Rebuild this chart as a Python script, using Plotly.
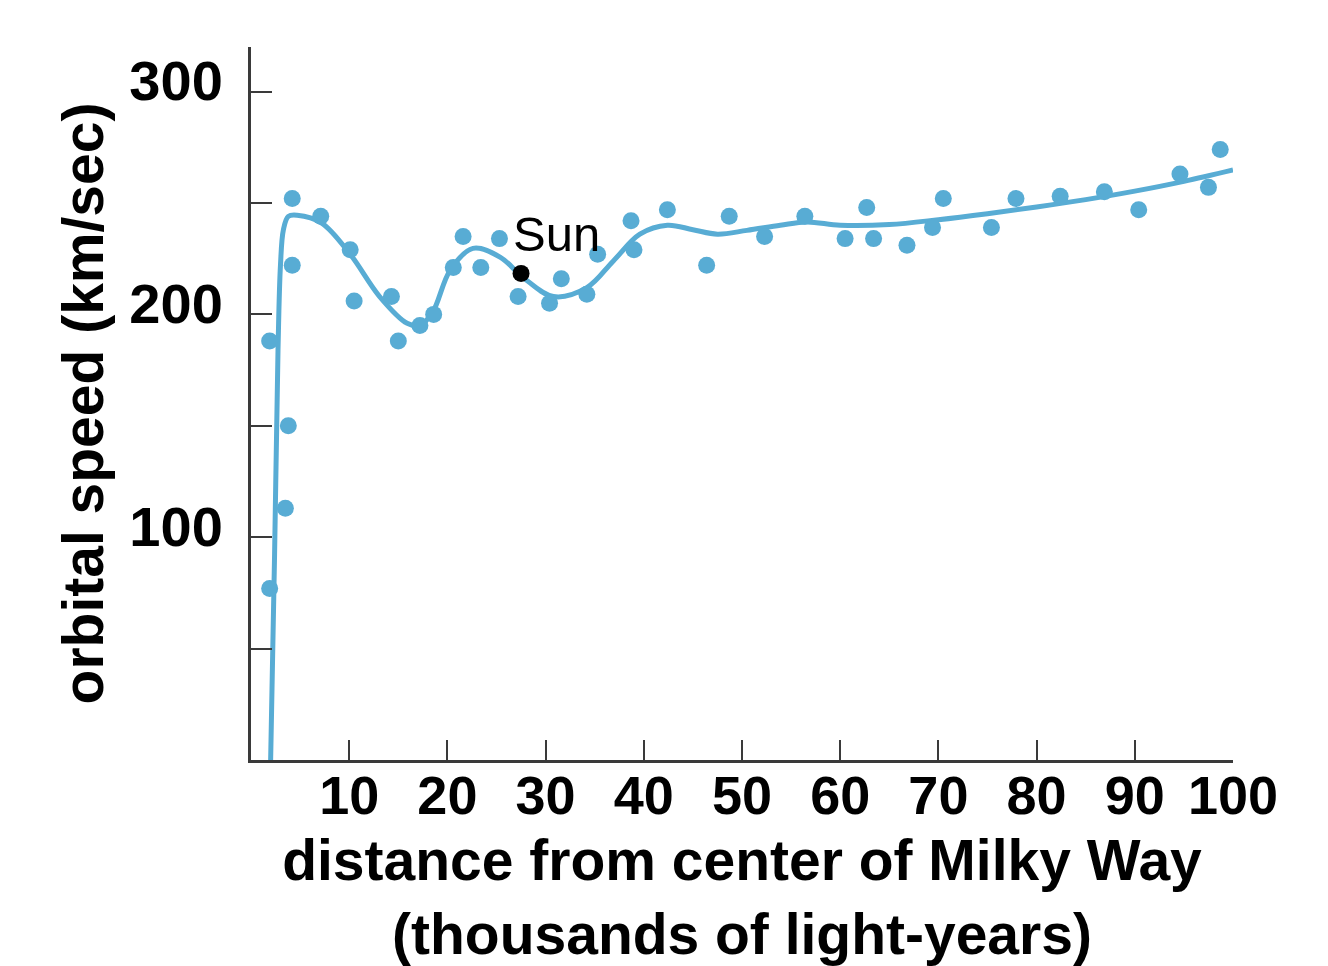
import plotly.graph_objects as go

# observed stars/gas clouds (thousands of light-years, km/sec)
star_dist = [1.9, 1.9, 3.5, 3.8, 4.2, 4.2, 7.1, 10.1, 10.5, 14.3, 15.0, 17.2, 18.6,
             20.6, 21.6, 23.4, 25.3, 27.2, 30.4, 31.6, 34.2, 35.3, 38.7, 39.0,
             42.4, 46.4, 48.7, 52.3, 56.4, 60.5, 62.7, 63.4, 66.8, 69.4, 70.5,
             75.4, 77.9, 82.4, 86.9, 90.4, 94.6, 97.5, 98.7]
star_speed = [188, 77, 113, 150, 222, 252, 244, 229, 206, 208, 188, 195, 200,
              221, 235, 221, 234, 208, 205, 216, 209, 227, 242, 229,
              247, 222, 244, 235, 244, 234, 248, 234, 231, 239, 252,
              239, 252, 253, 255, 247, 263, 257, 274]

# fitted rotation curve
curve_dist = [2.0, 2.4, 2.75, 3.0, 3.3, 3.8, 4.7, 7.2, 10.1, 13.1, 15.9, 17.2,
              18.5, 20.3, 22.6, 25.4, 27.7, 30.8, 34.2, 36.9, 39.6, 42.4, 45.0,
              47.5, 50.5, 53.9, 56.6, 60.0, 65.0, 70.0, 75.0, 80.0, 85.0, 90.0,
              95.0, 100.0]
curve_speed = [0, 92, 184, 222, 238, 244, 244.5, 241, 227, 208, 196, 195,
               201, 220, 229.6, 225.6, 216.6, 208, 212, 224, 236, 240, 238,
               236, 237.7, 240, 241.5, 240, 240.3, 242.5, 245.2, 248.2, 251.5, 255.3,
               259.7, 264.8]

sun_dist = [27.5]
sun_speed = [218.4]

y_tickvals = [50, 100, 150, 200, 250, 300]
y_ticktext = ["", "100", "", "200", "", "300"]
x_tickvals = [10, 20, 30, 40, 50, 60, 70, 80, 90, 100]
x_ticktext = ["10", "20", "30", "40", "50", "60", "70", "80", "90", "100"]

BLUE = "rgb(88,172,212)"
FONT = "Liberation Sans"

fig = go.Figure()
fig.add_trace(go.Scatter(
    x=curve_dist, y=curve_speed, mode="lines",
    line=dict(color=BLUE, width=5, shape="spline", smoothing=1.0),
    hoverinfo="skip", showlegend=False))
fig.add_trace(go.Scatter(
    x=star_dist, y=star_speed, mode="markers",
    marker=dict(color=BLUE, size=17, line=dict(width=0)),
    showlegend=False))
fig.add_trace(go.Scatter(
    x=sun_dist, y=sun_speed, mode="markers",
    marker=dict(color="black", size=17, line=dict(width=0)),
    showlegend=False))

fig.add_annotation(x=26.5, y=236, xref="x", yref="y", text="Sun",
                   showarrow=False, xanchor="left", yanchor="middle",
                   font=dict(family=FONT, size=49, color="black"))

fig.update_layout(
    width=1328, height=966,
    margin=dict(l=251, r=95, t=47, b=206, pad=0),
    paper_bgcolor="white", plot_bgcolor="white",
    font=dict(family=FONT, color="black"),
)
fig.update_xaxes(
    range=[0, 100], showgrid=False, zeroline=False, automargin=False,
    showline=True, linecolor="#3a3a3a", linewidth=3,
    tickmode="array", tickvals=x_tickvals, ticktext=x_ticktext,
    ticks="inside", ticklen=20, tickwidth=2, tickcolor="#3a3a3a",
    tickfont=dict(family=FONT, size=54, weight="bold", color="black"),
    ticklabelstandoff=-14,
    title=dict(text="distance from center of Milky Way<br>(thousands of light-years)",
               font=dict(family=FONT, size=57, weight="bold", color="black"),
               standoff=20),
)
fig.update_yaxes(
    range=[0, 320], showgrid=False, zeroline=False, automargin=False,
    showline=True, linecolor="#3a3a3a", linewidth=3,
    tickmode="array", tickvals=y_tickvals, ticktext=y_ticktext,
    ticks="inside", ticklen=21, tickwidth=2, tickcolor="#3a3a3a",
    tickfont=dict(family=FONT, size=56, weight="bold", color="black"),
    ticklabelstandoff=14, ticklabelshift=-11,
    title=dict(text="orbital speed (km/sec)",
               font=dict(family=FONT, size=57, weight="bold", color="black"),
               standoff=8),
)

fig.write_html("out.html")
